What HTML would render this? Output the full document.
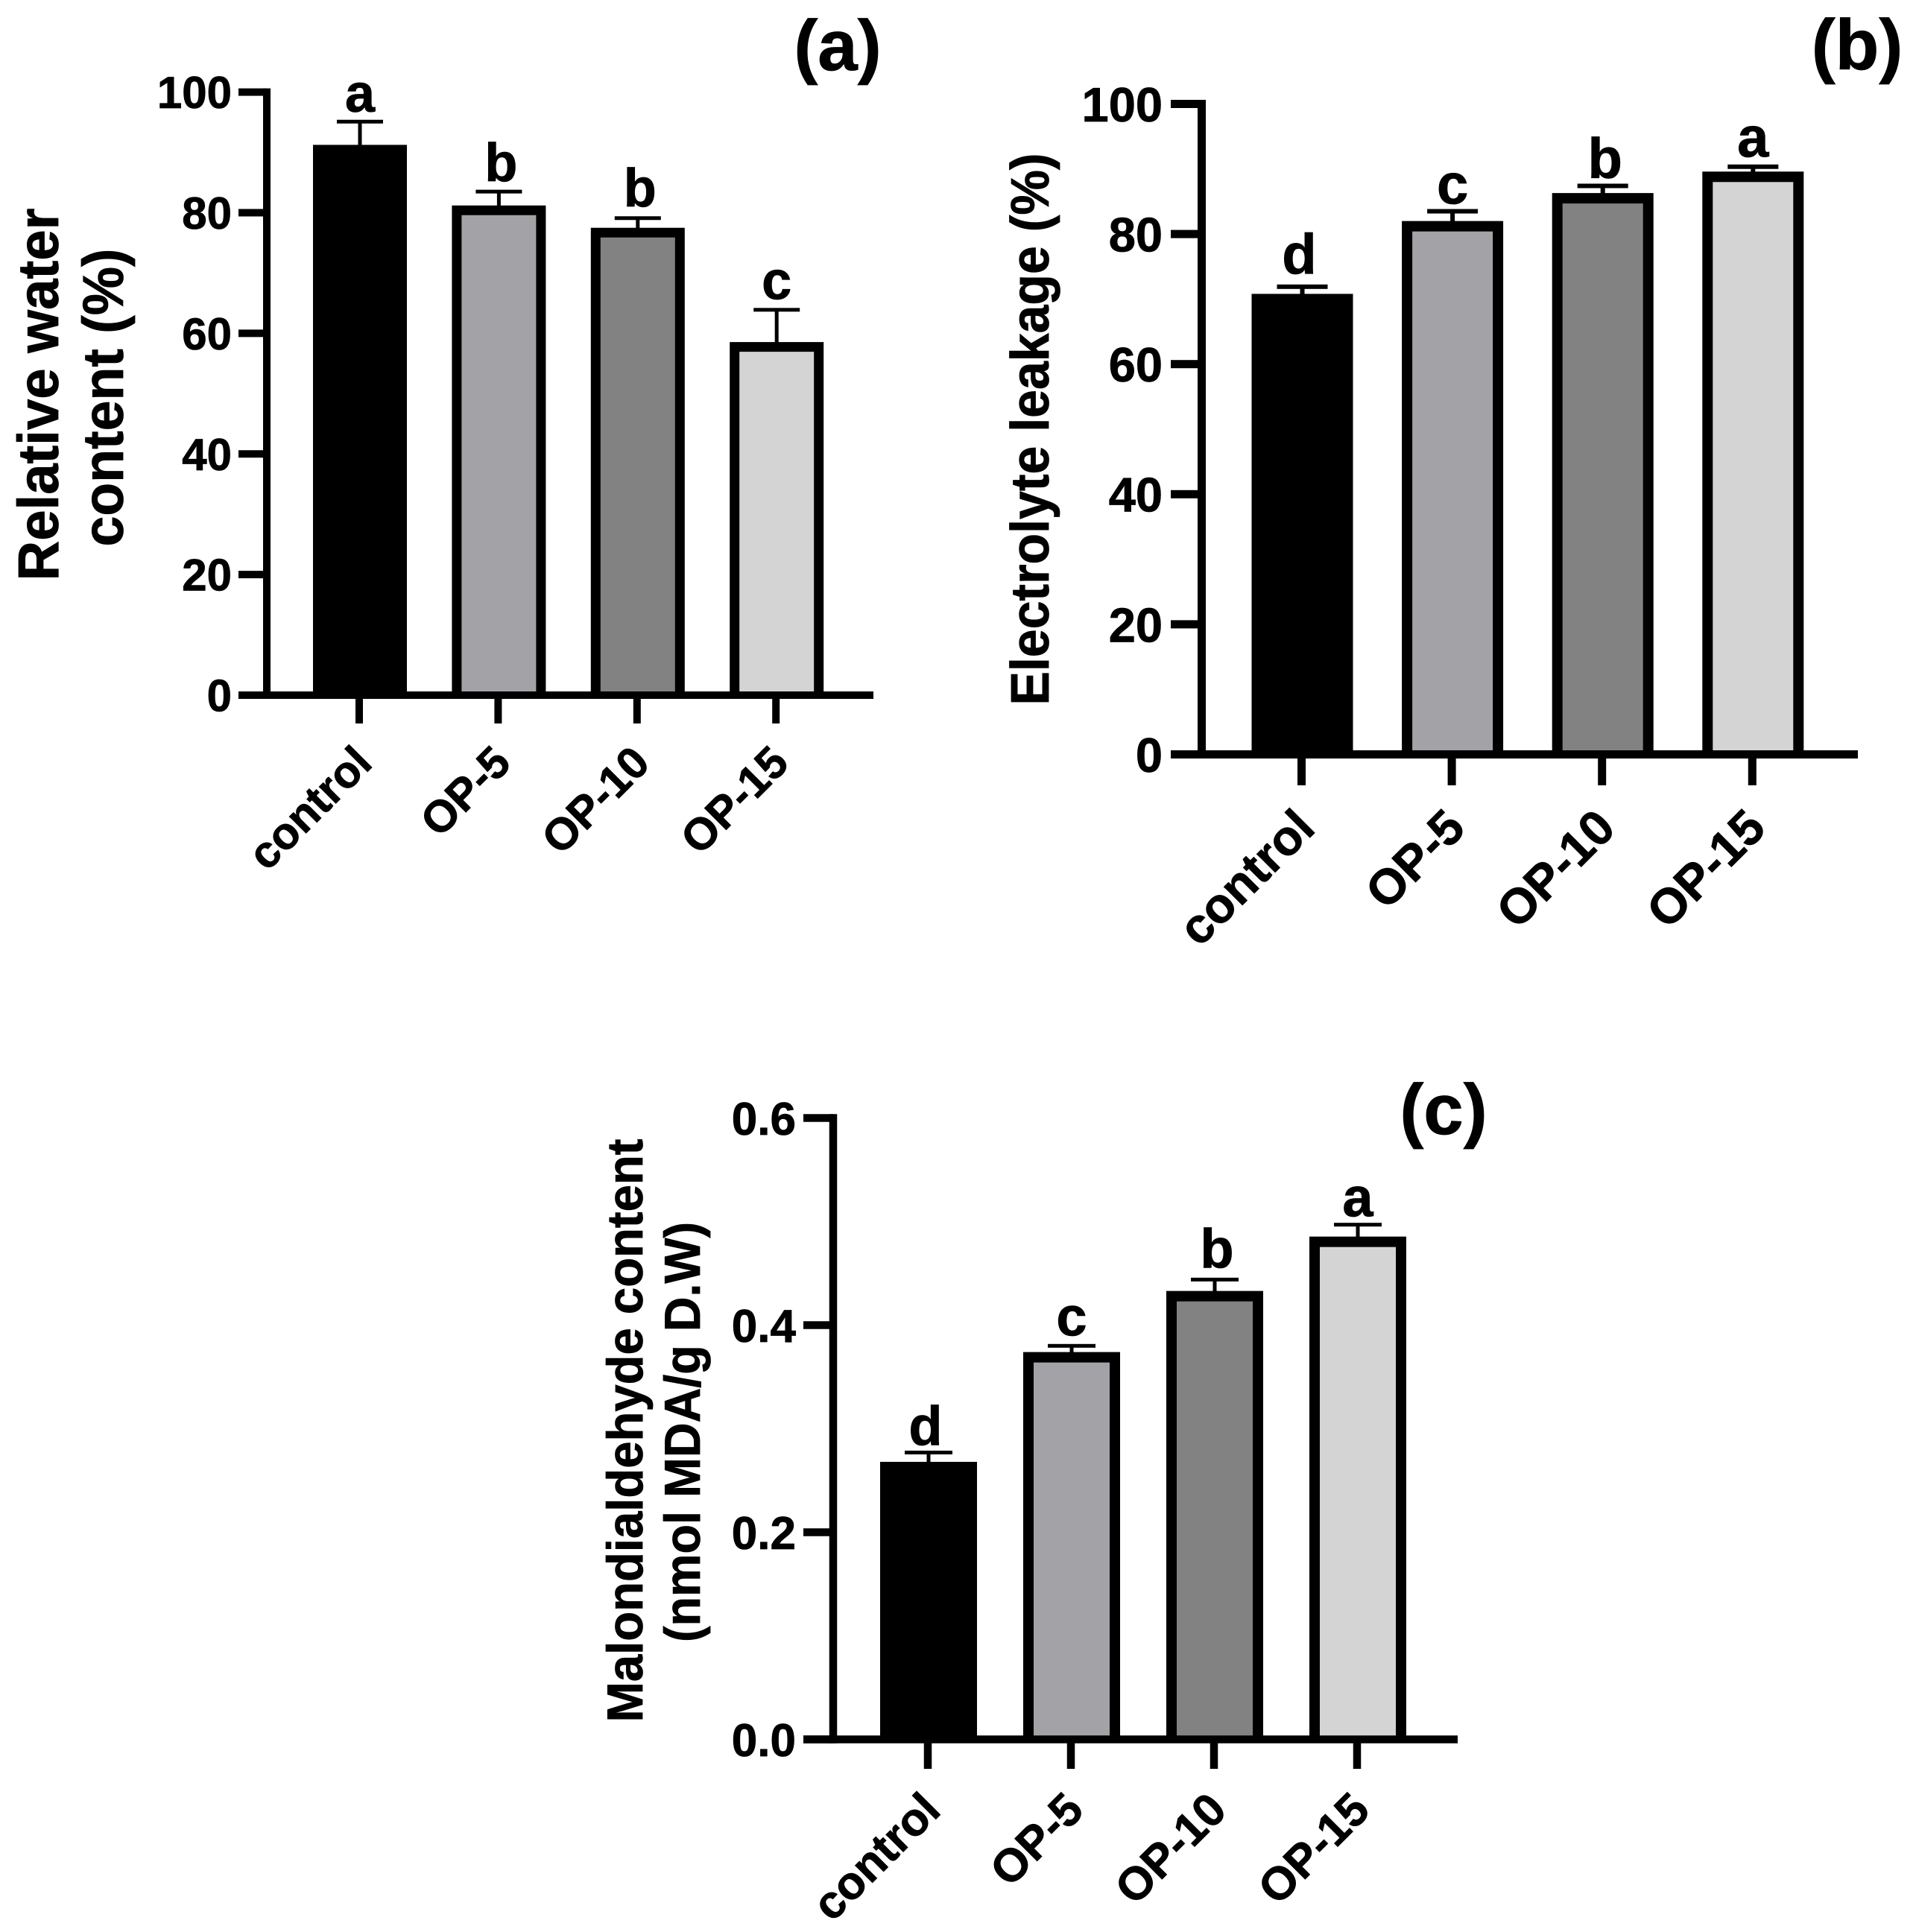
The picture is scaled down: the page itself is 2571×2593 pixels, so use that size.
<!DOCTYPE html>
<html lang="en">
<head>
<meta charset="utf-8">
<title>Relative water content, electrolyte leakage and malondialdehyde content</title>
<style>
  html, body { margin: 0; padding: 0; background: #fff; }
  svg { display: block; }
  text { font-family: "Liberation Sans", Arial, sans-serif; font-weight: bold; fill: #000; stroke: #000; stroke-width: 0.8px; }
</style>
</head>
<body>
<svg id="figure" xmlns="http://www.w3.org/2000/svg" width="2571" height="2593" viewBox="0 0 2571 2593">
  <rect x="0" y="0" width="2571" height="2593" fill="#fff"/>

  <text x="1124" y="94" font-size="96" text-anchor="middle">(a)</text>
  <text x="2492" y="93" font-size="96" text-anchor="middle">(b)</text>
  <text x="1937" y="1522" font-size="96" text-anchor="middle">(c)</text>

  <text transform="translate(78 529.5) rotate(-90)" font-size="77" text-anchor="middle" textLength="500" lengthAdjust="spacingAndGlyphs">Relative water</text>
  <text transform="translate(165 533.5) rotate(-90)" font-size="77" text-anchor="middle" textLength="400" lengthAdjust="spacingAndGlyphs">content (%)</text>
  <text transform="translate(1407 576) rotate(-90)" font-size="72" text-anchor="middle" textLength="741" lengthAdjust="spacingAndGlyphs">Electrolyte leakage (%)</text>
  <text transform="translate(862 1920) rotate(-90)" font-size="68" text-anchor="middle" textLength="783" lengthAdjust="spacingAndGlyphs">Malondialdehyde content</text>
  <text transform="translate(939 1922) rotate(-90)" font-size="68" text-anchor="middle" textLength="564" lengthAdjust="spacingAndGlyphs">(nmol MDA/g D.W)</text>

  <g id="panel-a"></g>
  <g id="panel-b"></g>
  <g id="panel-c"></g>
</svg>

<script>
// Shared categories
const categories = ['control', 'OP-5', 'OP-10', 'OP-15'];

// Panel (a) Relative water content
const rwcValues = [91.25, 81.2, 77.5, 58.55];
const rwcErrorTops = [95.1, 83.5, 79.1, 63.9];
const rwcLetters = ['a', 'b', 'b', 'c'];
const rwcTicks = [0, 20, 40, 60, 80, 100];
const rwcTickLabels = ['0', '20', '40', '60', '80', '100'];

// Panel (b) Electrolyte leakage
const elValues = [70.8, 82.0, 86.3, 89.6];
const elErrorTops = [71.9, 83.5, 87.4, 90.35];
const elLetters = ['d', 'c', 'b', 'a'];
const elTicks = [0, 20, 40, 60, 80, 100];
const elTickLabels = ['0', '20', '40', '60', '80', '100'];

// Panel (c) Malondialdehyde content
const mdaValues = [0.268, 0.374, 0.433, 0.4855];
const mdaErrorTops = [0.277, 0.380, 0.444, 0.497];
const mdaLetters = ['d', 'c', 'b', 'a'];
const mdaTicks = [0, 0.2, 0.4, 0.6];
const mdaTickLabels = ['0.0', '0.2', '0.4', '0.6'];

const barFills = ['#000000', '#a3a2a6', '#828282', '#d4d4d4'];

const SVG_NS = 'http://www.w3.org/2000/svg';

function makeRect(x, y, w, h, fill) {
  const r = document.createElementNS(SVG_NS, 'rect');
  r.setAttribute('x', x);
  r.setAttribute('y', y);
  r.setAttribute('width', w);
  r.setAttribute('height', Math.max(0, h));
  r.setAttribute('fill', fill);
  return r;
}

function makeText(x, y, size, anchor, content) {
  const t = document.createElementNS(SVG_NS, 'text');
  t.setAttribute('x', x);
  t.setAttribute('y', y);
  t.setAttribute('font-size', size);
  t.setAttribute('text-anchor', anchor);
  t.textContent = content;
  return t;
}

// Small optical x-shift per glyph so letters sit where the figure places them.
function letterShift(ch) {
  if (ch === 'd') return -4;
  if (ch === 'b') return 3;
  return 0;
}

function drawPanel(p) {
  const g = document.getElementById(p.id);
  const yMax = p.ticks[p.ticks.length - 1];
  const yScale = function (v) { return p.y0 + (p.yTop - p.y0) * (v / yMax); };
  const xScale = function (i) { return p.c0 + p.step * i; };
  const lw = p.lineWidth;

  // bars, error bars, significance letters
  p.values.forEach(function (value, i) {
    const cx = xScale(i);
    const top = yScale(value);
    const errTop = yScale(p.errorTops[i]);
    const cat = categories[i].toLowerCase();

    const stem = makeRect(cx - p.stemW / 2, errTop, p.stemW, top - errTop + 2, '#000');
    
    
    g.appendChild(stem);

    const cap = makeRect(cx - p.capW / 2, errTop - p.capH / 2, p.capW, p.capH, '#000');
    
    
    g.appendChild(cap);

    const bar = makeRect(cx - p.barW / 2, top, p.barW, p.y0 - top, '#000');
    
    
    g.appendChild(bar);

    const fill = makeRect(cx - p.barW / 2 + p.border, top + p.border, p.barW - 2 * p.border, p.y0 - top - p.border, barFills[i]);
    
    
    g.appendChild(fill);

    const letter = makeText(cx + letterShift(p.letters[i]), errTop - p.letterGaps[i], p.letterSize, 'middle', p.letters[i]);
    
    
    g.appendChild(letter);
  });

  // y axis
  const yAxis = makeRect(p.axisX - lw / 2, p.yTop - lw / 2, lw, p.y0 - p.yTop + lw, '#000');
  
  
  g.appendChild(yAxis);

  p.ticks.forEach(function (tick, i) {
    const y = yScale(tick);
    const mark = makeRect(p.tickLeft, y - lw / 2, p.axisX - p.tickLeft, lw, '#000');
    
    
    g.appendChild(mark);

    const label = makeText(p.tickLabelRight, y + p.tickSize * 0.36, p.tickSize, 'end', p.tickLabels[i]);
    
    
    g.appendChild(label);
  });

  // x axis
  const xAxis = makeRect(p.tickLeft, p.y0 - lw / 2, p.xEnd - p.tickLeft, lw, '#000');
  
  
  g.appendChild(xAxis);

  categories.forEach(function (name, i) {
    const cx = xScale(i) - 1;
    const mark = makeRect(cx - lw / 2, p.y0, lw, p.tickBottom - p.y0, '#000');
    
    
    g.appendChild(mark);

    const ax = cx + p.labelDx;
    const ay = p.y0 + p.labelDy;
    const label = makeText(ax, ay, p.labelSize, 'end', name);
    label.setAttribute('transform', 'rotate(-45 ' + ax + ' ' + ay + ')');
    
    
    g.appendChild(label);
  });
}

drawPanel({
  id: 'panel-a', values: rwcValues, errorTops: rwcErrorTops, letters: rwcLetters,
  ticks: rwcTicks, tickLabels: rwcTickLabels,
  axisX: 358, lineWidth: 10, y0: 933, yTop: 123.6, tickLeft: 320, xEnd: 1172,
  c0: 483, step: 186.4, barW: 126, border: 13, tickBottom: 971,
  capW: 62, capH: 5, stemW: 5, letterSize: 72, letterGaps: [13.5, 14, 15.7, 14.5],
  tickSize: 60, tickLabelRight: 311, labelSize: 60, labelDx: 20, labelDy: 94
});

drawPanel({
  id: 'panel-b', values: elValues, errorTops: elErrorTops, letters: elLetters,
  ticks: elTicks, tickLabels: elTickLabels,
  axisX: 1612.5, lineWidth: 11, y0: 1012.5, yTop: 139.5, tickLeft: 1571, xEnd: 2493,
  c0: 1747.5, step: 201.6, barW: 136, border: 14, tickBottom: 1054,
  capW: 68, capH: 6, stemW: 6, letterSize: 76, letterGaps: [17.7, 10, 10.8, 13],
  tickSize: 65, tickLabelRight: 1560, labelSize: 66, labelDx: 21, labelDy: 102
});

drawPanel({
  id: 'panel-c', values: mdaValues, errorTops: mdaErrorTops, letters: mdaLetters,
  ticks: mdaTicks, tickLabels: mdaTickLabels,
  axisX: 1118, lineWidth: 10.5, y0: 2334.5, yTop: 1500.5, tickLeft: 1078, xEnd: 1956,
  c0: 1246, step: 192, barW: 130, border: 14, tickBottom: 2374,
  capW: 64, capH: 5, stemW: 5, letterSize: 74, letterGaps: [10, 14, 16, 11],
  tickSize: 62, tickLabelRight: 1068, labelSize: 62, labelDx: 20, labelDy: 98
});
</script>
</body>
</html>
